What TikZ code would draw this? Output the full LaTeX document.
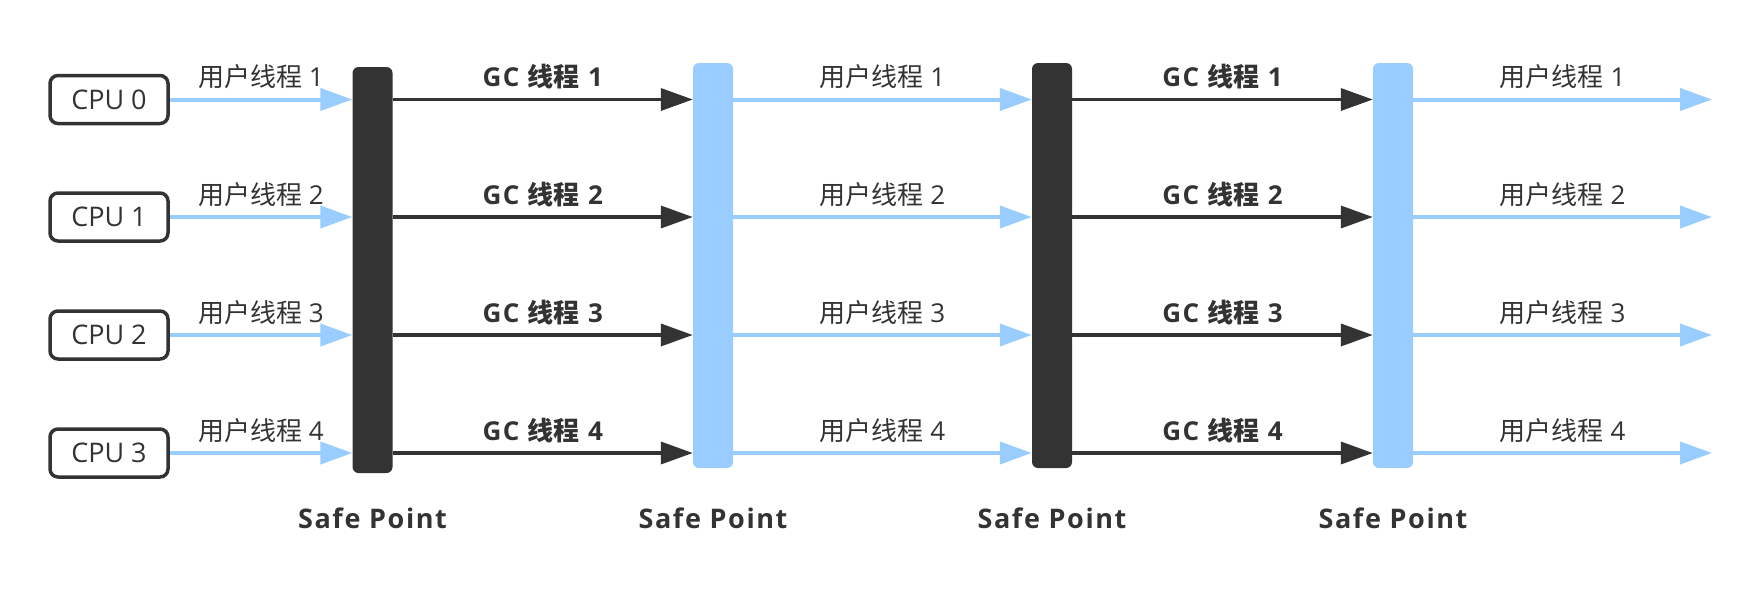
\documentclass[tikz,border=0pt]{standalone}
\usepackage{fontspec}
\setmainfont{Open Sans}[BoldFeatures={LetterSpace=6}]
\newfontfamily\cjk{Noto Sans CJK SC}
\usetikzlibrary{arrows.meta,positioning}
\definecolor{dark}{HTML}{333333}
\definecolor{sky}{HTML}{99CCFF}
\newcommand{\ut}[1]{{\cjk 用户线程}~#1}
\newcommand{\gt}[1]{GC~{\cjk 线程}~#1}

\begin{document}
\begin{tikzpicture}[x=1pt, y=-1pt, auto,
	cpubox/.style={draw=dark, line width=3.5pt, rounded corners=8pt, minimum width=118pt, minimum height=48pt, inner sep=0pt, text=dark, font=\fontsize{27}{32}\selectfont},
	safept/.style={rounded corners=6pt, minimum width=40pt, inner sep=0pt},
	user/.style={draw=sky, line width=4pt, -{Triangle[length=32pt,width=22pt]}},
	gc/.style={draw=dark, line width=3.5pt, -{Triangle[length=32pt,width=22pt]}},
	lbl/.style={text=dark, font=\fontsize{26}{30}\selectfont, inner sep=8.5pt},
	gclbl/.style={lbl, font=\bfseries\fontsize{26}{30}\selectfont},
	sptxt/.style={text=dark, font=\bfseries\fontsize{27}{32}\selectfont}]
	\useasboundingbox (0,0) rectangle (1763,592);
	\node[cpubox] (cpu0) at (109,99.5) {CPU 0};
	\node[cpubox] (cpu1) at (109,217) {CPU 1};
	\node[cpubox] (cpu2) at (109,335) {CPU 2};
	\node[cpubox] (cpu3) at (109,453) {CPU 3};
	\node[safept, fill=dark, minimum height=406pt] (sp1) at (372.5,270) {};
	\node[safept, fill=sky, minimum height=405pt] (sp2) at (713,265.5) {};
	\node[safept, fill=dark, minimum height=405pt] (sp3) at (1052,265.5) {};
	\node[safept, fill=sky, minimum height=405pt] (sp4) at (1393,265.5) {};
	\coordinate (base) at (0,518);
	\coordinate (tip) at (1712,0);
	\node[sptxt] at (sp1 |- base) {Safe Point};
	\node[sptxt] at (sp2 |- base) {Safe Point};
	\node[sptxt] at (sp3 |- base) {Safe Point};
	\node[sptxt] at (sp4 |- base) {Safe Point};
	\path (cpu0) edge[user] node[lbl] {\ut1} (cpu0 -| sp1.west);
	\path (cpu1) edge[user] node[lbl] {\ut2} (cpu1 -| sp1.west);
	\path (cpu2) edge[user] node[lbl] {\ut3} (cpu2 -| sp1.west);
	\path (cpu3) edge[user] node[lbl] {\ut4} (cpu3 -| sp1.west);
	\path (sp1.east |- cpu0) edge[gc] node[gclbl] {\gt1} (sp2.west |- cpu0);
	\path (sp1.east |- cpu1) edge[gc] node[gclbl] {\gt2} (sp2.west |- cpu1);
	\path (sp1.east |- cpu2) edge[gc] node[gclbl] {\gt3} (sp2.west |- cpu2);
	\path (sp1.east |- cpu3) edge[gc] node[gclbl] {\gt4} (sp2.west |- cpu3);
	\path (sp2.east |- cpu0) edge[user] node[lbl] {\ut1} (sp3.west |- cpu0);
	\path (sp2.east |- cpu1) edge[user] node[lbl] {\ut2} (sp3.west |- cpu1);
	\path (sp2.east |- cpu2) edge[user] node[lbl] {\ut3} (sp3.west |- cpu2);
	\path (sp2.east |- cpu3) edge[user] node[lbl] {\ut4} (sp3.west |- cpu3);
	\path (sp3.east |- cpu0) edge[gc] node[gclbl] {\gt1} (sp4.west |- cpu0);
	\path (sp3.east |- cpu1) edge[gc] node[gclbl] {\gt2} (sp4.west |- cpu1);
	\path (sp3.east |- cpu2) edge[gc] node[gclbl] {\gt3} (sp4.west |- cpu2);
	\path (sp3.east |- cpu3) edge[gc] node[gclbl] {\gt4} (sp4.west |- cpu3);
	\path (sp4.east |- cpu0) edge[user] node[lbl] {\ut1} (tip |- cpu0);
	\path (sp4.east |- cpu1) edge[user] node[lbl] {\ut2} (tip |- cpu1);
	\path (sp4.east |- cpu2) edge[user] node[lbl] {\ut3} (tip |- cpu2);
	\path (sp4.east |- cpu3) edge[user] node[lbl] {\ut4} (tip |- cpu3);
\end{tikzpicture}
\end{document}
